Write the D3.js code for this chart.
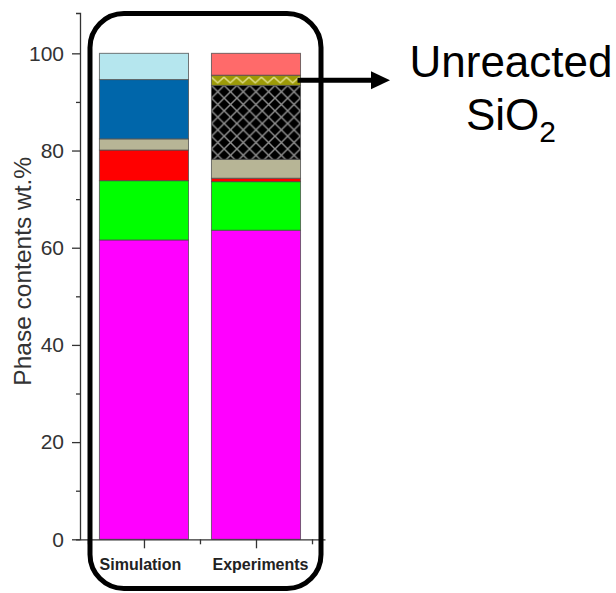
<!DOCTYPE html>
<html>
<head>
<meta charset="utf-8">
<script src="https://cdn.jsdelivr.net/npm/d3@7"></script>
<style>
  html, body { margin: 0; padding: 0; background: #fff; }
  svg { display: block; font-family: "Liberation Sans", Arial, sans-serif; }
</style>
</head>
<body>
<svg id="chart" width="616" height="593"></svg>
<script>
// ---------------- data ----------------
const categories = ["Simulation", "Experiments"];
// stacked phase contents (wt.%), bottom to top
const simulationValues  = [61.6, 12.2, 6.3, 2.3, 12.2, 5.4];
const experimentValues  = [63.6, 10.0, 0.7, 3.9, 15.2, 2.1, 4.5];
const yMajorTicks = [0, 20, 40, 60, 80, 100];
const yMinorTicks = [10, 30, 50, 70, 90];
const yLabel = "Phase contents wt.%";
const annotationLine1 = "Unreacted";
const annotationBase = "SiO";
const annotationSub = "2";
const annotatedSegment = 5;        // index of SiO2 (zigzag) segment in experiments

// ---------------- styles ----------------
const simulationFills = ["#ff00ff", "#00ff00", "#ff0000", "#b7b596", "#0066aa", "#b5e6ee"];
const experimentFills = ["#ff00ff", "#00ff00", "#ff0000", "#b7b596", "url(#crosshatch)", "url(#zigzag)", "#ff6a6a"];

const svg = d3.select("#chart");

const y = d3.scaleLinear().domain([0, 108.3]).range([539.3, 13]);
const x = d3.scaleLinear().domain([-0.571, 1.616]).range([80, 325]);
const barW = x(0.795) - x(0);

function stackOf(vals) {
  let acc = 0;
  return vals.map(v => { const s = { y0: acc, y1: acc + v }; acc += v; return s; });
}
const stacks = [stackOf(simulationValues), stackOf(experimentValues)];
const fills = [simulationFills, experimentFills];

// ---------------- patterns ----------------
const defs = svg.append("defs");
const cw = 12.7;
const ch = defs.append("pattern").attr("id", "crosshatch")
  .attr("patternUnits", "userSpaceOnUse").attr("width", cw).attr("height", cw)
  .attr("x", x(1) - barW / 2).attr("y", y(stacks[1][4].y1));
ch.append("rect").attr("width", cw).attr("height", cw).attr("fill", "#000");
ch.append("path").attr("d", `M0,0L${cw},${cw}M${cw},0L0,${cw}`)
  .attr("stroke", "#8f8f8f").attr("stroke-width", 1.4).attr("fill", "none");

const zzSeg = stacks[1][annotatedSegment];
const zzH = y(zzSeg.y0) - y(zzSeg.y1);
const zz = defs.append("pattern").attr("id", "zigzag")
  .attr("patternUnits", "userSpaceOnUse").attr("width", 12.5).attr("height", zzH)
  .attr("x", x(1) - barW / 2).attr("y", y(zzSeg.y1));
zz.append("rect").attr("width", 12.5).attr("height", zzH).attr("fill", "#9c9a08");
zz.append("path").attr("d", `M0,${zzH * 0.2}L6.25,${zzH * 0.75}L12.5,${zzH * 0.2}`)
  .attr("stroke", "#dedc86").attr("stroke-width", 1.5).attr("fill", "none");

// ---------------- bars ----------------
categories.forEach((cat, i) => {
  svg.append("g").selectAll("rect")
    .data(stacks[i])
    .join("rect")
    .attr("x", x(i) - barW / 2)
    .attr("width", barW)
    .attr("y", d => y(d.y1))
    .attr("height", d => y(d.y0) - y(d.y1))
    .attr("fill", (d, j) => fills[i][j])
    .attr("stroke", "#4a4a4a")
    .attr("stroke-opacity", 0.75)
    .attr("stroke-width", 1);
});

// ---------------- axes ----------------
const axisColor = "#333";
const gy = svg.append("g").attr("transform", `translate(${x.range()[0]},0)`)
  .call(d3.axisLeft(y).tickValues(yMajorTicks).tickSize(8).tickSizeOuter(4).tickPadding(8));
gy.selectAll("text").attr("font-size", 21).attr("fill", "#333")
  .attr("font-family", "Liberation Sans, Arial, sans-serif");
const gyMinor = svg.append("g").attr("transform", `translate(${x.range()[0]},0)`)
  .call(d3.axisLeft(y).tickValues(yMinorTicks).tickSize(4).tickFormat(""));
gyMinor.select(".domain").remove();

const gx = svg.append("g").attr("transform", `translate(0,${y(0)})`)
  .call(d3.axisBottom(x).tickValues([0, 1]).tickSize(9).tickSizeOuter(0).tickPadding(10)
    .tickFormat(i => categories[i]));
gx.selectAll("text").attr("font-size", 16).attr("font-weight", "bold").attr("fill", "#222")
  .attr("font-family", "Liberation Sans, Arial, sans-serif")
  .attr("dx", (d, i) => i === 0 ? -4 : 4);
const gxMinor = svg.append("g").attr("transform", `translate(0,${y(0)})`)
  .call(d3.axisBottom(x).tickValues([-0.5, 0.5, 1.5]).tickSize(5).tickFormat(""));
gxMinor.select(".domain").remove();

svg.selectAll(".domain, .tick line").attr("stroke", axisColor).attr("stroke-width", 1.3);

// y label
svg.append("text")
  .attr("transform", `translate(31,${(y(0) + y(100)) / 2 - 25}) rotate(-90)`)
  .attr("text-anchor", "middle")
  .attr("font-size", 24.5)
  .attr("fill", "#333")
  .text(yLabel);

// ---------------- rounded frame ----------------
svg.append("rect")
  .attr("x", 90).attr("y", 13.5).attr("width", 231).attr("height", 575)
  .attr("rx", 34).attr("ry", 34)
  .attr("fill", "none").attr("stroke", "#000").attr("stroke-width", 5);

// ---------------- annotation arrow ----------------
const ay = y((zzSeg.y0 + zzSeg.y1) / 2);
const ax0 = x(1) + barW / 2 - 3;
svg.append("line")
  .attr("x1", ax0).attr("x2", 374).attr("y1", ay).attr("y2", ay)
  .attr("stroke", "#000").attr("stroke-width", 5);
svg.append("path")
  .attr("d", `M371,${ay - 9}L390,${ay}L371,${ay + 9}Z`)
  .attr("fill", "#000");

svg.append("text")
  .attr("x", 511).attr("y", 77)
  .attr("text-anchor", "middle")
  .attr("font-size", 44)
  .attr("fill", "#000")
  .text(annotationLine1);
const t2 = svg.append("text")
  .attr("x", 511).attr("y", 130)
  .attr("text-anchor", "middle")
  .attr("font-size", 44)
  .attr("fill", "#000");
t2.append("tspan").text(annotationBase);
t2.append("tspan").attr("font-size", 30).attr("dy", 12).text(annotationSub);
</script>
</body>
</html>
